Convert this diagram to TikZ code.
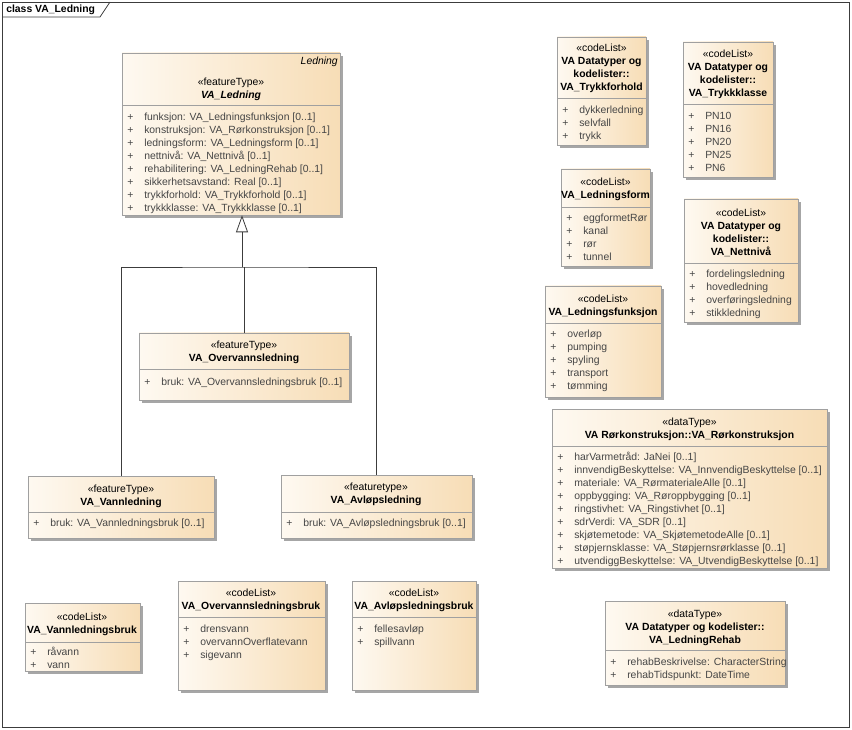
\documentclass[tikz,border=0pt]{standalone}
\usepackage{fontspec}
\setmainfont{Liberation Sans}
\usetikzlibrary{arrows.meta,fit,shadows}

\definecolor{boxleft}{RGB}{254,249,241}
\definecolor{boxright}{RGB}{247,221,182}
\definecolor{boxline}{RGB}{160,160,160}
\definecolor{attrtext}{RGB}{70,70,70}
\definecolor{frameline}{RGB}{60,60,60}

\newcommand{\umlfont}{\fontsize{7.8}{9.75}\selectfont}
\newcommand{\attr}[1]{\makebox[12.75pt][l]{+}#1}

\begin{document}
\begin{tikzpicture}[x=0.75pt, y=-0.75pt,
    classbox/.style={draw=boxline, left color=boxleft, right color=boxright, inner sep=0pt,
      drop shadow={shadow xshift=2.2pt, shadow yshift=-2.2pt, fill=black!35, opacity=1}},
    hdr/.style={anchor=north, align=center, inner sep=0pt, font=\umlfont},
    attrs/.style={anchor=north west, align=left, inner sep=0pt, font=\umlfont, text=attrtext},
    divider/.style={draw=boxline},
    frame/.style={draw=frameline, line width=0.6pt},
    genline/.style={draw=frameline, line width=0.6pt},
    gen/.style={genline, -{Triangle[open, fill=white, width=9pt, length=12.75pt]}}]
    \useasboundingbox (0,0) rectangle (852,730);
    % Diagram frame with title tab
    \draw[frame] (2,2) rectangle (849,727);
    \draw[frame] (2,17) -- (100,17) -- (110,2);
    \node[anchor=west, inner sep=0pt, font=\umlfont\bfseries] (title) at (6,10) {class VA\_Ledning};

    % Supertype VA_Ledning
    \node[classbox, fit={(122,53) (340,215)}] (ledning) {};
    \draw[divider] (122,105) -- (340,105);
    \node[anchor=north east, inner sep=0pt, font=\umlfont\itshape] (ledningtag) at (338,57) {Ledning};
    \node[hdr] (ledninghdr) at (231,77.5) {«featureType»\\\textbf{\textit{VA\_Ledning}}};
    \node[attrs] (ledningattr) at (127,112.5) {\attr{funksjon: VA\_Ledningsfunksjon [0..1]}\\
      \attr{konstruksjon: VA\_Rørkonstruksjon [0..1]}\\
      \attr{ledningsform: VA\_Ledningsform [0..1]}\\
      \attr{nettnivå: VA\_Nettnivå [0..1]}\\
      \attr{rehabilitering: VA\_LedningRehab [0..1]}\\
      \attr{sikkerhetsavstand: Real [0..1]}\\
      \attr{trykkforhold: VA\_Trykkforhold [0..1]}\\
      \attr{trykkklasse: VA\_Trykkklasse [0..1]}};

    % Subtypes
    \node[classbox, fit={(139,333) (349,400)}] (overvann) {};
    \draw[divider] (139,369) -- (349,369);
    \node[hdr] (overvannhdr) at (244,341) {«featureType»\\\textbf{VA\_Overvannsledning}};
    \node[attrs] (overvannattr) at (144,378) {\attr{bruk: VA\_Overvannsledningsbruk [0..1]}};

    \node[classbox, fit={(28,476) (214,538)}] (vann) {};
    \draw[divider] (28,512) -- (214,512);
    \node[hdr] (vannhdr) at (121,484.5) {«featureType»\\\textbf{VA\_Vannledning}};
    \node[attrs] (vannattr) at (33,519) {\attr{bruk: VA\_Vannledningsbruk [0..1]}};

    \node[classbox, fit={(281,475) (472,538)}] (avlop) {};
    \draw[divider] (281,512) -- (472,512);
    \node[hdr] (avlophdr) at (376,483) {«featuretype»\\\textbf{VA\_Avløpsledning}};
    \node[attrs] (avlopattr) at (286,519) {\attr{bruk: VA\_Avløpsledningsbruk [0..1]}};

    % Generalization
    \coordinate (joint) at (242,267);
    \draw[genline] (vann.north) |- (joint) -| (avlop.north);
    \draw[genline] (overvann.north) -- (overvann.north |- joint);
    \draw[gen] (joint) -- (joint |- ledning.south);

    % Code lists for bruk
    \node[classbox, fit={(25,603) (140,671)}] (vannbruk) {};
    \draw[divider] (25,642) -- (140,642);
    \node[hdr] (vannbrukhdr) at (82,612.5) {«codeList»\\\textbf{VA\_Vannledningsbruk}};
    \node[attrs] (vannbrukattr) at (30,647) {\attr{råvann}\\\attr{vann}};

    \node[classbox, fit={(178,581) (325,690)}] (overvannbruk) {};
    \draw[divider] (178,617) -- (325,617);
    \node[hdr] (overvannbrukhdr) at (251,588.5) {«codeList»\\\textbf{VA\_Overvannsledningsbruk}};
    \node[attrs] (overvannbrukattr) at (183,625) {\attr{drensvann}\\\attr{overvannOverflatevann}\\\attr{sigevann}};

    \node[classbox, fit={(352,581) (476,690)}] (avlopbruk) {};
    \draw[divider] (352,617) -- (476,617);
    \node[hdr] (avlopbrukhdr) at (414,589) {«codeList»\\\textbf{VA\_Avløpsledningsbruk}};
    \node[attrs] (avlopbrukattr) at (357,625) {\attr{fellesavløp}\\\attr{spillvann}};

    % Code lists and data types on the right
    \node[classbox, fit={(557,37) (646,145)}] (trykkforhold) {};
    \draw[divider] (557,98) -- (646,98);
    \node[hdr] (trykkforholdhdr) at (601.5,44) {«codeList»\\\textbf{VA Datatyper og}\\\textbf{kodelister::}\\\textbf{VA\_Trykkforhold}};
    \node[attrs] (trykkforholdattr) at (562,106) {\attr{dykkerledning}\\\attr{selvfall}\\\attr{trykk}};

    \node[classbox, fit={(683,42) (773,177)}] (trykkklasse) {};
    \draw[divider] (683,104) -- (773,104);
    \node[hdr] (trykkklassehdr) at (728,49.5) {«codeList»\\\textbf{VA Datatyper og}\\\textbf{kodelister::}\\\textbf{VA\_Trykkklasse}};
    \node[attrs] (trykkklasseattr) at (688,111.5) {\attr{PN10}\\\attr{PN16}\\\attr{PN20}\\\attr{PN25}\\\attr{PN6}};

    \node[classbox, fit={(561,169) (650,266)}] (ledningsform) {};
    \draw[divider] (561,207) -- (650,207);
    \node[hdr] (ledningsformhdr) at (605.5,177.5) {«codeList»\\\textbf{VA\_Ledningsform}};
    \node[attrs] (ledningsformattr) at (566,213.5) {\attr{eggformetRør}\\\attr{kanal}\\\attr{rør}\\\attr{tunnel}};

    \node[classbox, fit={(684,199) (798,322)}] (nettniva) {};
    \draw[divider] (684,263) -- (798,263);
    \node[hdr] (nettnivahdr) at (741,208.5) {«codeList»\\\textbf{VA Datatyper og}\\\textbf{kodelister::}\\\textbf{VA\_Nettnivå}};
    \node[attrs] (nettnivaattr) at (689,270) {\attr{fordelingsledning}\\\attr{hovedledning}\\\attr{overføringsledning}\\\attr{stikkledning}};

    \node[classbox, fit={(545,286) (661,397)}] (funksjon) {};
    \draw[divider] (545,323) -- (661,323);
    \node[hdr] (funksjonhdr) at (603,294.5) {«codeList»\\\textbf{VA\_Ledningsfunksjon}};
    \node[attrs] (funksjonattr) at (550,330) {\attr{overløp}\\\attr{pumping}\\\attr{spyling}\\\attr{transport}\\\attr{tømming}};

    \node[classbox, fit={(552,409) (827,568)}] (rorkonstruksjon) {};
    \draw[divider] (552,446) -- (827,446);
    \node[hdr] (rorkonstruksjonhdr) at (689.5,417.5) {«dataType»\\\textbf{VA Rørkonstruksjon::VA\_Rørkonstruksjon}};
    \node[attrs] (rorkonstruksjonattr) at (557,452) {\attr{harVarmetråd: JaNei [0..1]}\\
      \attr{innvendigBeskyttelse: VA\_InnvendigBeskyttelse [0..1]}\\
      \attr{materiale: VA\_RørmaterialeAlle [0..1]}\\
      \attr{oppbygging: VA\_Røroppbygging [0..1]}\\
      \attr{ringstivhet: VA\_Ringstivhet [0..1]}\\
      \attr{sdrVerdi: VA\_SDR [0..1]}\\
      \attr{skjøtemetode: VA\_SkjøtemetodeAlle [0..1]}\\
      \attr{støpjernsklasse: VA\_Støpjernsrørklasse [0..1]}\\
      \attr{utvendiggBeskyttelse: VA\_UtvendigBeskyttelse [0..1]}};

    \node[classbox, fit={(605,601) (785,685)}] (rehab) {};
    \draw[divider] (605,650) -- (785,650);
    \node[hdr] (rehabhdr) at (695,609.5) {«dataType»\\\textbf{VA Datatyper og kodelister::}\\\textbf{VA\_LedningRehab}};
    \node[attrs] (rehabattr) at (610,658) {\attr{rehabBeskrivelse: CharacterString}\\\attr{rehabTidspunkt: DateTime}};
\end{tikzpicture}
\end{document}
